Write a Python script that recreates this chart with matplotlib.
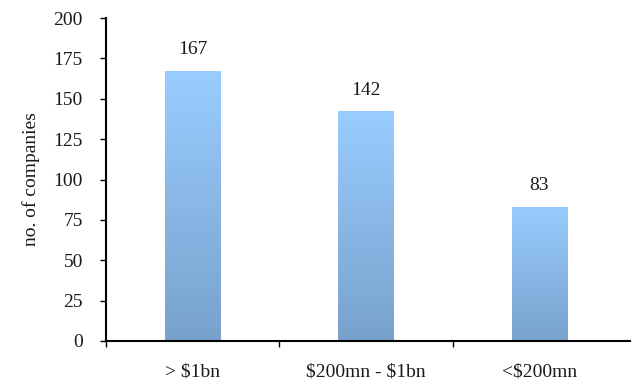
import numpy as np
import matplotlib.pyplot as plt
from matplotlib.colors import LinearSegmentedColormap

categories = ['> \\$1bn', '\\$200mn - \\$1bn', '<\\$200mn']
counts = [167, 142, 83]
yticks = [0, 25, 50, 75, 100, 125, 150, 175, 200]

plt.rcParams['font.family'] = ['Liberation Serif', 'DejaVu Serif']
FS = 14
TXT = '#1a1a1a'

fig = plt.figure(figsize=(6.34, 3.83), dpi=100)
ax = fig.add_axes([0.167, 0.1097, 0.826, 0.843])

# vertical gradient fill: dark at the base, light at the top
cmap = LinearSegmentedColormap.from_list('bar', ['#78a2cc', '#99ccff'])
grad = np.linspace(0, 1, 256).reshape(-1, 1)
width = 0.32
for i, v in enumerate(counts):
    ax.imshow(grad, cmap=cmap, origin='lower', aspect='auto',
              extent=(i - width / 2, i + width / 2, 0, v), zorder=2)
    ax.text(i, v + 8, str(v), ha='center', va='bottom', fontsize=FS, color=TXT)

ax.set_xlim(-0.5, len(categories) - 0.5 + 0.02)
ax.set_ylim(0, 200)

ax.set_yticks(yticks)
ax.tick_params(axis='y', direction='out', length=4.5, width=1, labelsize=FS,
               pad=12, labelcolor=TXT)

# category labels centred, tick marks on the category boundaries
ax.set_xticks(range(len(categories)))
ax.set_xticklabels(categories, fontsize=FS, color=TXT)
ax.tick_params(axis='x', which='major', length=0, pad=16)
ax.set_xticks(np.arange(len(categories)) - 0.5, minor=True)
ax.tick_params(axis='x', which='minor', direction='out', length=4.5, width=1)

ax.set_ylabel('no. of companies', fontsize=FS, labelpad=10, color=TXT)

for s in ['top', 'right']:
    ax.spines[s].set_visible(False)
for s in ['left', 'bottom']:
    ax.spines[s].set_linewidth(1.5)

fig.savefig('out.png', dpi=100)
